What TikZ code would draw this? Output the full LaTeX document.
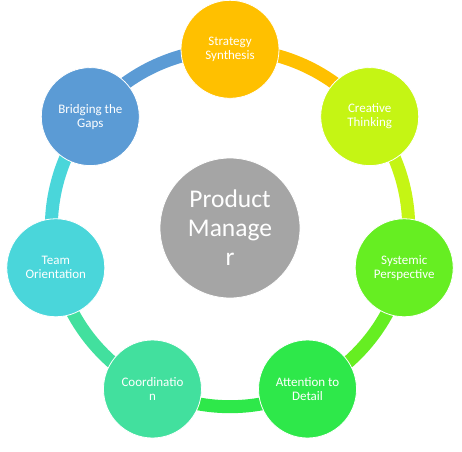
\documentclass[tikz,border=0pt]{standalone}
\usepackage{fontspec}
\setmainfont{Carlito}
\definecolor{cA}{HTML}{FFC000}
\definecolor{cB}{HTML}{C5F514}
\definecolor{cC}{HTML}{66EE22}
\definecolor{cD}{HTML}{2EE84A}
\definecolor{cE}{HTML}{42E09E}
\definecolor{cF}{HTML}{4AD6DA}
\definecolor{cG}{HTML}{5B9BD5}
\definecolor{cMid}{HTML}{A5A5A5}
\tikzset{
  item/.style={circle, minimum size=98pt, inner sep=0pt, draw=white, line width=0.8pt,
    text=white, align=center, font=\fontsize{13}{14}\selectfont},
  hub/.style={circle, minimum size=140pt, inner sep=0pt, fill=cMid, draw=white, line width=0.8pt,
    text=white, align=center, font=\fontsize{25.5}{29}\selectfont},
  ring/.style={line width=13pt}
}
\begin{document}
\begin{tikzpicture}[x=1pt,y=1pt]
\useasboundingbox (0,0) rectangle (462,451);
\coordinate (C) at (230,223);
% ring nodes (positions only, for arcs)
\coordinate (p1) at ([shift={(90:178.7)}]C);
\coordinate (p2) at ([shift={(38.571:178.7)}]C);
\coordinate (p3) at ([shift={(-12.857:178.7)}]C);
\coordinate (p4) at ([shift={(-64.286:178.7)}]C);
\coordinate (p5) at ([shift={(-115.714:178.7)}]C);
\coordinate (p6) at ([shift={(-167.143:178.7)}]C);
\coordinate (p7) at ([shift={(-218.571:178.7)}]C);
% arcs
\draw[ring, draw=cA] (p1) arc[start angle=90, end angle=38.571, radius=178.7];
\draw[ring, draw=cB] (p2) arc[start angle=38.571, end angle=-12.857, radius=178.7];
\draw[ring, draw=cC] (p3) arc[start angle=-12.857, end angle=-64.286, radius=178.7];
\draw[ring, draw=cD] (p4) arc[start angle=-64.286, end angle=-115.714, radius=178.7];
\draw[ring, draw=cE] (p5) arc[start angle=-115.714, end angle=-167.143, radius=178.7];
\draw[ring, draw=cF] (p6) arc[start angle=-167.143, end angle=-218.571, radius=178.7];
\draw[ring, draw=cG] (p7) arc[start angle=-218.571, end angle=-270, radius=178.7];
% circles
\node[item, fill=cA] (n1) at (p1) {Strategy\\Synthesis};
\node[item, fill=cB] (n2) at (p2) {Creative\\Thinking};
\node[item, fill=cC] (n3) at (p3) {Systemic\\Perspective};
\node[item, fill=cD] (n4) at (p4) {Attention to\\Detail};
\node[item, fill=cE] (n5) at (p5) {Coordinatio\\n};
\node[item, fill=cF] (n6) at (p6) {Team\\Orientation};
\node[item, fill=cG] (n7) at (p7) {Bridging the\\Gaps};
\node[hub] (hub) at (C) {Product\\Manage\\r};
\end{tikzpicture}
\end{document}
